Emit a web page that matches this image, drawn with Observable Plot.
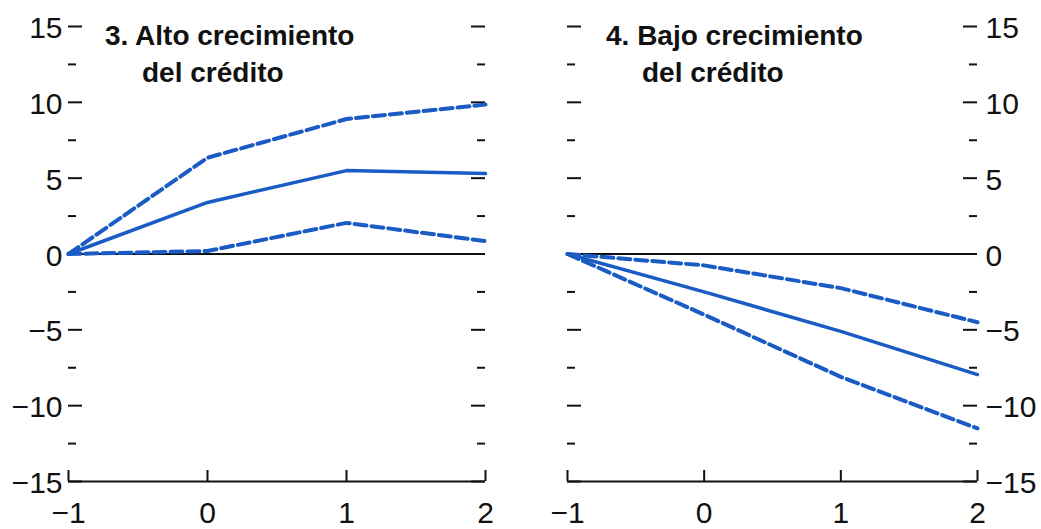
<!DOCTYPE html>
<html><head><meta charset="utf-8">
<script src="https://cdn.jsdelivr.net/npm/d3@7"></script>
<script src="https://cdn.jsdelivr.net/npm/@observablehq/plot@0.6"></script>
<style>
body{margin:0;background:#fff;}
#wrap{position:relative;width:1041px;height:529px;overflow:hidden;background:#fff;}
.panel{position:absolute;top:0;}
.title{position:absolute;font-family:"Liberation Sans",Arial,sans-serif;font-weight:bold;font-size:28px;line-height:37px;color:#111;white-space:nowrap;}
</style></head><body><div id="wrap"></div>
<script>
// Data
const years = [-1, 0, 1, 2];
const altoCentral = [0, 3.4, 5.5, 5.3];
const altoUpper = [0, 6.35, 8.9, 9.85];
const altoLower = [0, 0.2, 2.05, 0.85];
const bajoCentral = [0, -2.5, -5.1, -7.95];
const bajoUpper = [0, -0.75, -2.25, -4.5];
const bajoLower = [0, -4.0, -8.1, -11.5];
const majorTicks = [-15, -10, -5, 0, 5, 10, 15];
const minorTicks = [-12.5, -7.5, -2.5, 2.5, 7.5, 12.5];
const xTicks = [-1, 0, 1, 2];
const titleLeft = ["3. Alto crecimiento", "del crédito"];
const titleRight = ["4. Bajo crecimiento", "del crédito"];

const BLUE = "#1a5bc4";
const INK = "#111";
const fmt = d => (d < 0 ? "\u2212" + Math.abs(d) : String(d));

function panel({width, marginLeft, marginRight, labelSide, central, upper, lower}) {
  const height = 529, marginTop = 26, marginBottom = 48;
  const innerW = width - marginLeft - marginRight;
  const innerH = height - marginTop - marginBottom;
  const rows = arr => years.map((x, i) => ({x, y: arr[i]}));
  return Plot.plot({
    width, height, marginLeft, marginRight, marginTop, marginBottom,
    x: {domain: [-1, 2], axis: null},
    y: {domain: [-15, 15], axis: null},
    style: {fontFamily: '"Liberation Sans", Arial, sans-serif', background: "transparent", overflow: "visible"},
    marks: [
      Plot.tickY(majorTicks, {y: d => d, insetRight: innerW - 14, stroke: INK, strokeWidth: 2}),
      Plot.tickY(minorTicks, {y: d => d, insetRight: innerW - 8, stroke: INK, strokeWidth: 2}),
      Plot.tickY(majorTicks, {y: d => d, insetLeft: innerW - 14, stroke: INK, strokeWidth: 2}),
      Plot.tickY(minorTicks, {y: d => d, insetLeft: innerW - 8, stroke: INK, strokeWidth: 2}),
      Plot.ruleY([-15], {stroke: INK, strokeWidth: 2}),
      Plot.tickX(xTicks, {x: d => d, insetTop: innerH - 11, stroke: INK, strokeWidth: 2}),
      Plot.ruleY([0], {stroke: INK, strokeWidth: 2}),
      Plot.line(rows(upper), {x: "x", y: "y", stroke: BLUE, strokeWidth: 4, strokeDasharray: "12,5"}),
      Plot.line(rows(lower), {x: "x", y: "y", stroke: BLUE, strokeWidth: 4, strokeDasharray: "12,5"}),
      Plot.line(rows(central), {x: "x", y: "y", stroke: BLUE, strokeWidth: 3.5}),
      Plot.text(majorTicks, {
        y: d => d, text: fmt, fontSize: 30, fill: INK, dy: 2,
        frameAnchor: labelSide, textAnchor: labelSide === "left" ? "end" : "start",
        dx: labelSide === "left" ? -6 : 8
      }),
      Plot.text(xTicks, {x: d => d, text: fmt, fontSize: 30, fill: INK, frameAnchor: "bottom", lineAnchor: "top", dy: 20})
    ]
  });
}

const wrap = document.getElementById("wrap");
function place(el, left) {
  const d = document.createElement("div");
  d.className = "panel"; d.style.left = left + "px";
  d.appendChild(el); wrap.appendChild(d);
}
place(panel({width: 520, marginLeft: 68, marginRight: 35, labelSide: "left",
  central: altoCentral, upper: altoUpper, lower: altoLower}), 0);
place(panel({width: 521, marginLeft: 47, marginRight: 64, labelSide: "right",
  central: bajoCentral, upper: bajoUpper, lower: bajoLower}), 520);

function title(lines, x1, x2) {
  [[lines[0], x1, 17], [lines[1], x2, 54]].forEach(([t, x, y]) => {
    const d = document.createElement("div");
    d.className = "title"; d.textContent = t;
    d.style.left = x + "px"; d.style.top = y + "px";
    wrap.appendChild(d);
  });
}
title(titleLeft, 105, 142);
title(titleRight, 606, 642);
</script>
</body></html>
